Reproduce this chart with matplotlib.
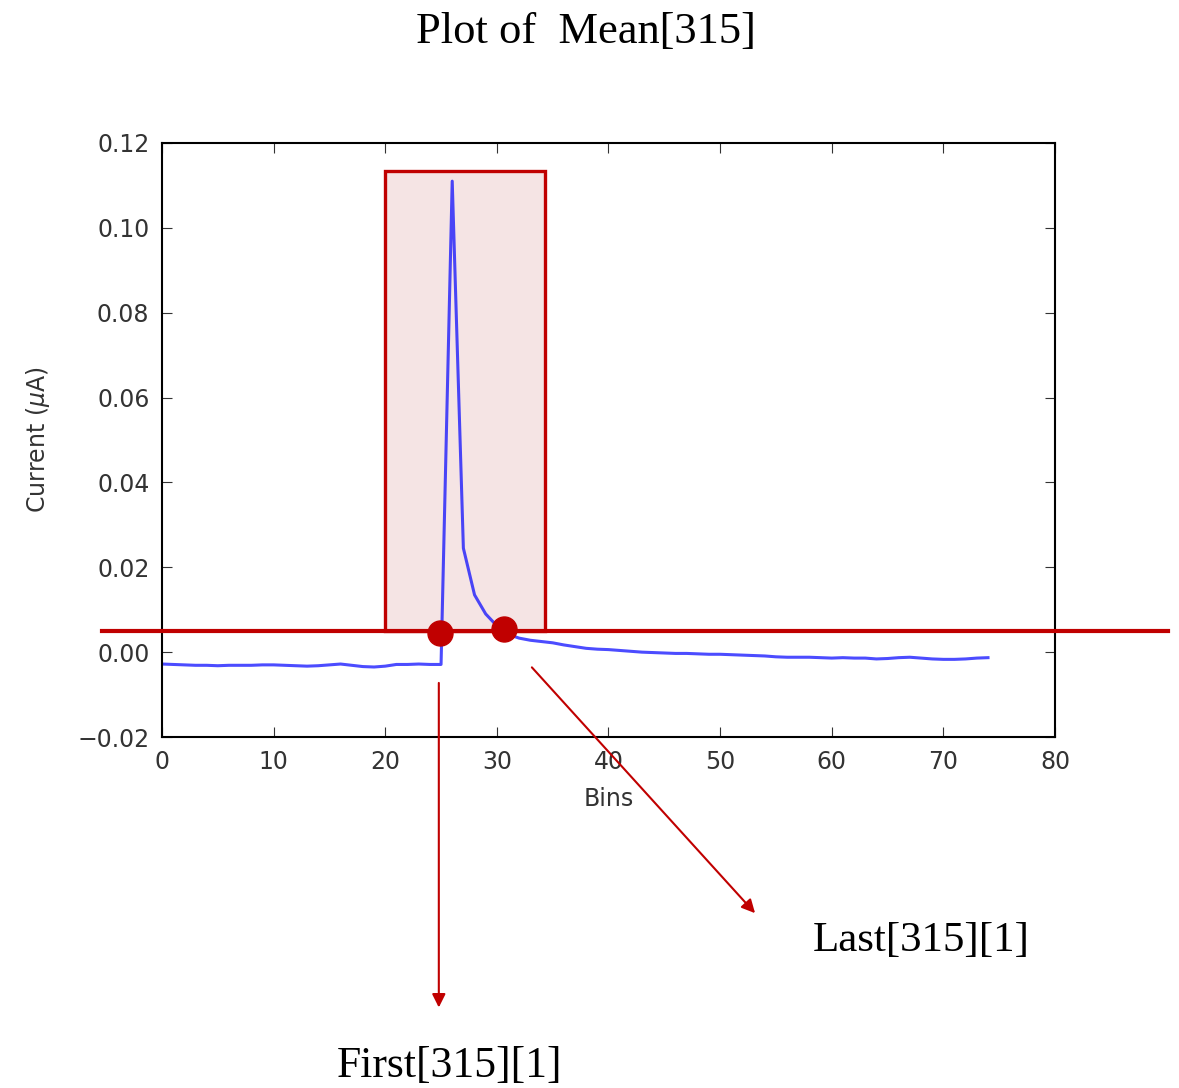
import matplotlib
matplotlib.use('Agg')
import matplotlib.pyplot as plt
from matplotlib.patches import Rectangle

# mean current per bin
bins = list(range(75))
current = [
    -0.0028, -0.0029, -0.0030, -0.0031, -0.0031, -0.0032, -0.0031, -0.0031, -0.0031, -0.0030,
    -0.0030, -0.0031, -0.0032, -0.0033, -0.0032, -0.0030, -0.0028, -0.0031, -0.0034, -0.0035,
    -0.0033, -0.0029, -0.0029, -0.0028, -0.0029, -0.0029, 0.1110, 0.0245, 0.0135, 0.0090,
    0.0062, 0.0042, 0.0033, 0.0028, 0.0025, 0.0022, 0.0017, 0.0013, 0.0009, 0.0007,
    0.0006, 0.0004, 0.0002, 0.0000, -0.0001, -0.0002, -0.0003, -0.0003, -0.0004, -0.0005,
    -0.0005, -0.0006, -0.0007, -0.0008, -0.0009, -0.0011, -0.0012, -0.0012, -0.0012, -0.0013,
    -0.0014, -0.0013, -0.0014, -0.0014, -0.0016, -0.0015, -0.0013, -0.0012, -0.0014, -0.0016,
    -0.0017, -0.0017, -0.0016, -0.0014, -0.0013,
]

threshold = 0.005
window = (20, 34.3)
window_top = 0.1134
first_pt = (24.9, 0.0045)
last_pt = (30.6, 0.0054)

red = '#c00000'
serif = 'Liberation Serif'

fig = plt.figure(figsize=(11.79, 10.88), dpi=100)
ax = fig.add_axes([0.1374, 0.3226, 0.7574, 0.546])

ax.add_patch(Rectangle((window[0], threshold), window[1] - window[0], window_top - threshold,
                       facecolor='#f5e4e4', edgecolor=red, lw=2.4, zorder=1))
ax.plot(bins, current, color='blue', alpha=0.7, lw=2.2, zorder=2)
ax.plot([-0.067, 1.1265], [threshold, threshold], color=red, lw=3,
        transform=ax.get_yaxis_transform(), clip_on=False, zorder=3)
ax.plot(*zip(first_pt, last_pt), 'o', color=red, ms=18, zorder=4, clip_on=False)

ax.set_xlim(0, 80)
ax.set_ylim(-0.02, 0.12)
ax.set_xticks(range(0, 81, 10))
ax.set_yticks([-0.02, 0, 0.02, 0.04, 0.06, 0.08, 0.10, 0.12])
ax.tick_params(direction='in', top=True, right=True, length=7, labelsize=17, colors='#333333')
ax.tick_params(axis='x', pad=9)
ax.tick_params(axis='y', pad=9)
for s in ax.spines.values():
    s.set_linewidth(1.5)
ax.set_xlabel('Bins', fontsize=17, color='#333333', labelpad=10)
ax.set_ylabel(r'Current ($\mu$A)', fontsize=17, color='#333333', labelpad=18)

arrow = dict(arrowstyle='-|>', color=red, lw=1.5, mutation_scale=20)
ax.annotate('', xy=(24.8, -0.0844), xytext=(24.8, -0.0066), arrowprops=arrow, annotation_clip=False)
ax.annotate('', xy=(53.3, -0.062), xytext=(32.97, -0.0031), arrowprops=arrow, annotation_clip=False)

fig.text(0.497, 0.971, 'Plot of  Mean[315]', ha='center', va='center', fontsize=32, family=serif)
fig.text(0.781, 0.1355, 'Last[315][1]', ha='center', va='center', fontsize=31, family=serif)
fig.text(0.3817, 0.020, 'First[315][1]', ha='center', va='center', fontsize=31.5, family=serif)

fig.savefig('out.png', dpi=100)
